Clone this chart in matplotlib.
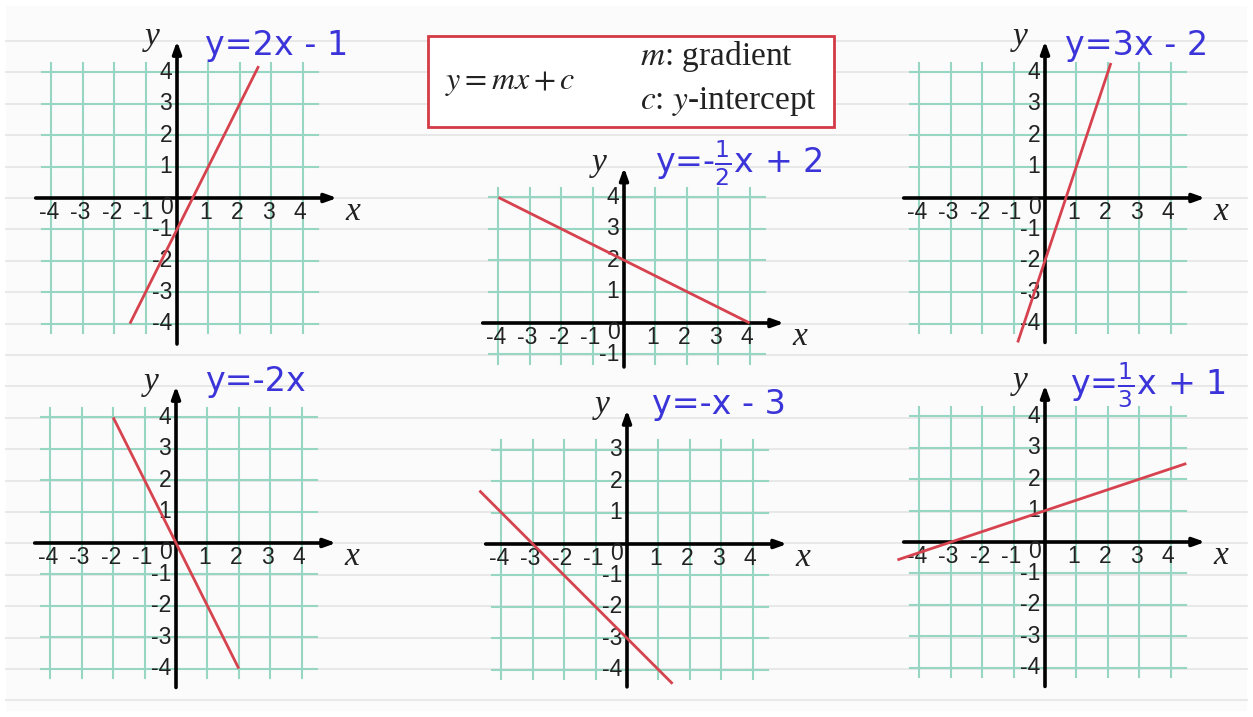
import matplotlib
matplotlib.use("Agg")
import matplotlib.pyplot as plt
from matplotlib.patches import Rectangle

plt.rcParams['mathtext.fontset'] = 'dejavusans'

# ---------------- data ----------------
equations = ["y=2x - 1", r"y=-$\frac{1}{2}$x + 2", "y=3x - 2",
             "y=-2x", "y=-x - 3", r"y=$\frac{1}{3}$x + 1"]
line_x = [[-1.5, 2.6], [-4.0, 4.0], [-0.87, 2.1], [-2.0, 2.0], [-4.7, 1.45], [-4.7, 4.5]]
line_y = [[-4.0, 4.2], [4.0, 0.0], [-4.6, 4.3], [4.0, -4.0], [1.7, -4.45], [-0.57, 2.5]]
x_ticks = [-4, -3, -2, -1, 1, 2, 3, 4]
y_ticks = [[-4, -3, -2, -1, 1, 2, 3, 4], [-1, 1, 2, 3, 4], [-4, -3, -2, -1, 1, 2, 3, 4],
           [-4, -3, -2, -1, 1, 2, 3, 4], [-4, -3, -2, -1, 1, 2, 3], [-4, -3, -2, -1, 1, 2, 3, 4]]
x_tick_labels = [str(v) for v in x_ticks]

# ---------------- layout ----------------
W, H = 1253, 717
U = 31.4
panels = [
    dict(o=(177, 198), yb=-4.65, yt=5.0, eq=(0.9, 4.87)),
    dict(o=(624, 323), yb=-1.4, yt=4.95, eq=(1.0, 5.1)),
    dict(o=(1045, 198), yb=-4.6, yt=5.0, eq=(0.64, 4.87)),
    dict(o=(176, 543), yb=-4.6, yt=5.0, eq=(0.92, 5.13)),
    dict(o=(627, 544), yb=-4.55, yt=4.27, eq=(0.8, 4.43)),
    dict(o=(1045, 542), yb=-4.6, yt=5.0, eq=(0.8, 5.0)),
]

GRID = '#97d6c2'
RED = '#d6434f'
BLUE = '#3b34d9'
INK = '#222222'

fig = plt.figure(figsize=(W / 100, H / 100), dpi=100)
fig.patch.set_facecolor('white')

# background: notebook paper
bg = fig.add_axes([0, 0, 1, 1])
bg.set_xlim(0, W)
bg.set_ylim(H, 0)
bg.axis('off')
bg.add_patch(Rectangle((6, 6), W - 12, H - 12, facecolor='#fbfbfb', edgecolor='none'))
k = -5
while 198 + k * U < H - 8:
    yy = 198 + k * U
    if yy > 10:
        bg.plot([6, W - 6], [yy, yy], color='#e8e8e8', lw=1.4, zorder=1)
    k += 1

# formula box
bg.add_patch(Rectangle((428, 36), 406, 91, facecolor='white', edgecolor='#d43a45', lw=2, zorder=3))
bg.text(445, 82, r"$y = mx + c$", fontsize=23, ha='left', va='center', zorder=4,
        math_fontfamily='stix', color=INK)
bg.text(640, 57, r"$m$: gradient", fontsize=24, ha='left', va='center', zorder=4,
        family='Liberation Serif', math_fontfamily='stix', color=INK)
bg.text(640, 102, r"$c$: $y$-intercept", fontsize=24, ha='left', va='center', zorder=4,
        family='Liberation Serif', math_fontfamily='stix', color=INK)

X0, X1, Y0, Y1 = -6.0, 6.5, -5.0, 5.5

for i, p in enumerate(panels):
    ox, oy = p['o']
    left = (ox + X0 * U) / W
    width = (X1 - X0) * U / W
    bottom = (H - (oy - Y0 * U)) / H
    height = (Y1 - Y0) * U / H
    ax = fig.add_axes([left, bottom, width, height])
    ax.set_xlim(X0, X1)
    ax.set_ylim(Y0, Y1)
    ax.axis('off')
    ax.patch.set_alpha(0)

    yt = y_ticks[i]
    gy0, gy1 = min(yt) - 0.3, max(yt) + 0.3
    gx0, gx1 = -4.3, 4.5
    for gx in x_ticks + [0]:
        ax.plot([gx, gx], [gy0, gy1], color=GRID, lw=1.5, zorder=2)
    for gy in yt + [0]:
        ax.plot([gx0, gx1], [gy, gy], color=GRID, lw=1.5, zorder=2)

    # axes with arrows
    ax.annotate('', xy=(5.1, 0), xytext=(-4.5, 0),
                arrowprops=dict(arrowstyle='-|>,head_length=0.7,head_width=0.25', lw=2.6,
                                color='black', shrinkA=0, shrinkB=0), zorder=5)
    ax.annotate('', xy=(0, p['yt']), xytext=(0, p['yb']),
                arrowprops=dict(arrowstyle='-|>,head_length=0.7,head_width=0.25', lw=2.6,
                                color='black', shrinkA=0, shrinkB=0), zorder=5)

    # tick labels
    for xv, lab in zip(x_ticks, x_tick_labels):
        ax.text(xv - 0.08, -0.47, lab, fontsize=16.5, family='Liberation Sans',
                ha='center', va='center', color=INK, zorder=6)
    ax.text(-0.35, -0.3, '0', fontsize=16.5, family='Liberation Sans',
            ha='center', va='center', color=INK, zorder=6)
    for yv in yt:
        ax.text(-0.15, yv, str(yv), fontsize=16.5, family='Liberation Sans',
                ha='right', va='center', color=INK, zorder=6)

    # axis names
    ax.text(5.6, -0.45, 'x', fontsize=24, family='Liberation Serif', style='italic',
            ha='center', va='center', color=INK)
    ax.text(-0.8, p['yt'] + 0.15, 'y', fontsize=24, family='Liberation Serif', style='italic',
            ha='center', va='center', color=INK)

    # the line
    ax.plot(line_x[i], line_y[i], color=RED, lw=2.0, zorder=7, solid_capstyle='butt')

    # equation
    ax.text(p['eq'][0], p['eq'][1], equations[i], fontsize=24, color=BLUE,
            ha='left', va='center', zorder=8)

fig.savefig('out.png', dpi=100, facecolor='white')
